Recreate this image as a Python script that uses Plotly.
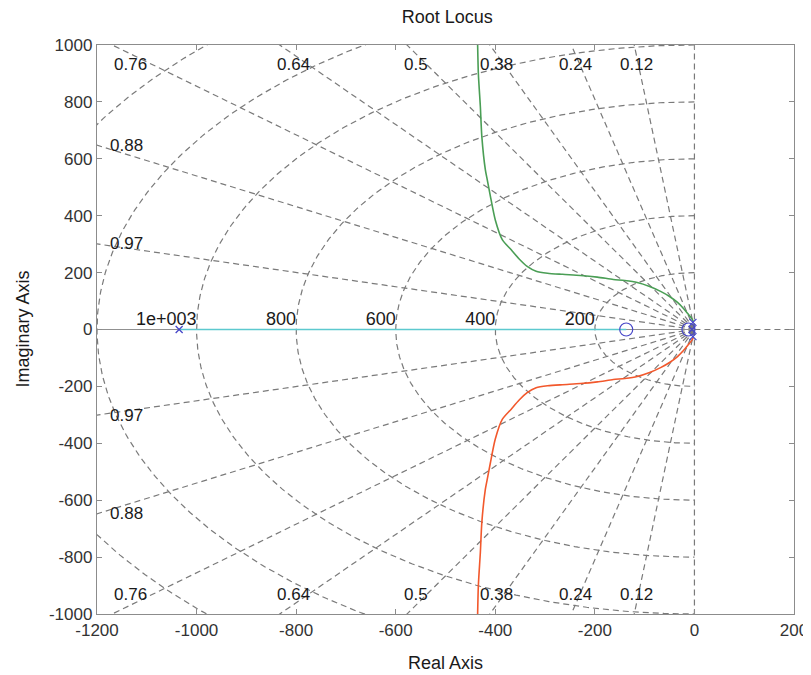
import numpy as np
import plotly.graph_objects as go

# ---------------- data ----------------
zeta_values = [0.12, 0.24, 0.38, 0.5, 0.64, 0.76, 0.88, 0.97]
zeta_labels = ["0.12", "0.24", "0.38", "0.5", "0.64", "0.76", "0.88", "0.97"]
wn_values = [200, 400, 600, 800, 1000, 1200, 1400]
wn_labels = ["200", "400", "600", "800", "1e+003", "1.2e+003", "1.4e+003"]

# upper branch (green); the lower branch (red) is its complex conjugate
branch_re = [-2, -6, -12, -22, -34, -50, -68, -90, -115, -140, -163, -195, -229, -265,
             -295, -318, -336, -352, -368, -386, -400, -410, -416, -420, -427, -430, -434, -436]
branch_im = [28, 40, 53, 74, 95, 116, 134, 151, 165, 172, 176, 184, 190, 194,
             198, 205, 222, 248, 280, 316, 385, 470, 525, 562, 678, 784, 900, 1050]
real_branch_re = [-1035, -137]
real_branch_im = [0, 0]

pole_re = [-1035, -3, -3, -5]
pole_im = [0, 25, -25, 0]
zero_re = [-137, -12]
zero_im = [0, 0]

x_ticks = [-1200, -1000, -800, -600, -400, -200, 0, 200]
y_ticks = [-1000, -800, -600, -400, -200, 0, 200, 400, 600, 800, 1000]
x_range = [-1200, 200]
y_range = [-1000, 1000]

# ---------------- styles ----------------
GRID = "#7a7a7a"
AXIS = "#8c8c8c"
TXT = "#1a1a1a"
FONT = "Liberation Sans, Arial, sans-serif"
DASH = "6px,4px"

fig = go.Figure()

# damping lines (from origin outward)
R = 4000
for z in zeta_values:
    s = np.sqrt(1 - z * z)
    for sign in (1, -1):
        fig.add_trace(go.Scatter(x=[0, -R * z], y=[0, sign * R * s], mode="lines",
                                 line=dict(color=GRID, width=1.2, dash=DASH),
                                 hoverinfo="skip", showlegend=False))
# zeta = 0 (imaginary axis) and positive real axis
fig.add_trace(go.Scatter(x=[0, 0], y=[0, 1100], mode="lines",
                         line=dict(color=GRID, width=1.2, dash=DASH), hoverinfo="skip", showlegend=False))
fig.add_trace(go.Scatter(x=[0, 0], y=[0, -1100], mode="lines",
                         line=dict(color=GRID, width=1.2, dash=DASH), hoverinfo="skip", showlegend=False))
fig.add_trace(go.Scatter(x=[0, 250], y=[0, 0], mode="lines",
                         line=dict(color=GRID, width=1.2, dash=DASH), hoverinfo="skip", showlegend=False))
# zeta = 1 (negative real axis)
fig.add_trace(go.Scatter(x=[0, -1300], y=[0, 0], mode="lines",
                         line=dict(color="#909090", width=1.2), hoverinfo="skip", showlegend=False))

# natural frequency semicircles
t = np.linspace(np.pi / 2, 3 * np.pi / 2, 361)
for w in wn_values:
    fig.add_trace(go.Scatter(x=w * np.cos(t), y=w * np.sin(t), mode="lines",
                             line=dict(color=GRID, width=1.2, dash=DASH),
                             hoverinfo="skip", showlegend=False))

# wn labels (right-aligned at the circle crossing, just above the axis)
fig.add_trace(go.Scatter(x=[-w for w in wn_values], y=[0] * len(wn_values), mode="text",
                         text=wn_labels, textposition="top left", cliponaxis=True,
                         textfont=dict(family=FONT, size=18, color=TXT),
                         hoverinfo="skip", showlegend=False))

# root locus branches
fig.add_trace(go.Scatter(x=real_branch_re, y=real_branch_im, mode="lines",
                         line=dict(color="#5cc9cf", width=1.6), showlegend=False))
fig.add_trace(go.Scatter(x=branch_re, y=branch_im, mode="lines",
                         line=dict(color="#4a9e55", width=1.6, shape="spline", smoothing=0.7),
                         showlegend=False))
fig.add_trace(go.Scatter(x=branch_re, y=[-v for v in branch_im], mode="lines",
                         line=dict(color="#f2582c", width=1.6, shape="spline", smoothing=0.7),
                         showlegend=False))

# poles and zeros
fig.add_trace(go.Scatter(x=pole_re, y=pole_im, mode="markers",
                         marker=dict(symbol="x-thin", size=7, line=dict(color="#4646c8", width=1.3)),
                         showlegend=False))
fig.add_trace(go.Scatter(x=zero_re, y=zero_im, mode="markers",
                         marker=dict(symbol="circle-open", size=13, color="#4646c8",
                                     line=dict(color="#4646c8", width=1.2)),
                         showlegend=False))

# damping labels
annotations = []
for z, lab in zip(zeta_values, zeta_labels):
    th = np.arccos(z)
    tn = np.tan(th)
    xt = -968 / tn
    if xt >= -1180:
        for sign in (1, -1):
            annotations.append(dict(x=xt, y=sign * 931, text=lab, showarrow=False,
                                    xanchor="center", yanchor="middle",
                                    font=dict(family=FONT, size=17, color=TXT)))
    else:
        yl = 1200 * tn
        for sign in (1, -1):
            annotations.append(dict(x=-1141, y=sign * yl, text=lab, showarrow=False,
                                    xanchor="center", yanchor="middle",
                                    font=dict(family=FONT, size=17, color=TXT)))

annotations.append(dict(x=0.5, y=0, xref="paper", yref="paper", yshift=-49, text="Real Axis",
                        showarrow=False, xanchor="center", yanchor="middle",
                        font=dict(family=FONT, size=18, color=TXT)))
annotations.append(dict(x=0, y=0.5, xref="paper", yref="paper", xshift=-75, text="Imaginary Axis",
                        showarrow=False, textangle=-90, xanchor="center", yanchor="middle",
                        font=dict(family=FONT, size=18, color=TXT)))

# page body has an 8px margin: figure is sized/offset so the plot box lands where the reference has it
fig.update_layout(
    width=803, height=667,
    margin=dict(l=89, r=17, t=37, b=61),
    paper_bgcolor="white", plot_bgcolor="white",
    title=dict(text="Root Locus", x=0.547, xanchor="center", y=1 - 9 / 667, yref="container",
               yanchor="middle", font=dict(family=FONT, size=18, color=TXT)),
    annotations=annotations,
    font=dict(family=FONT, size=17, color=TXT),
)
fig.update_xaxes(range=x_range, tickvals=x_ticks, ticktext=[str(v) for v in x_ticks],
                 automargin=False,
                 showgrid=False, zeroline=False, showline=True, linecolor=AXIS, linewidth=1.3,
                 mirror="ticks", ticks="inside", ticklen=5, tickcolor=AXIS,
                 tickfont=dict(family=FONT, size=17, color="#333333"))
fig.update_yaxes(range=y_range, tickvals=y_ticks, ticktext=[str(v) for v in y_ticks],
                 automargin=False,
                 showgrid=False, zeroline=False, showline=True, linecolor=AXIS, linewidth=1.3,
                 mirror="ticks", ticks="inside", ticklen=5, tickcolor=AXIS,
                 tickfont=dict(family=FONT, size=17, color="#333333"))

fig.write_html("out.html")
